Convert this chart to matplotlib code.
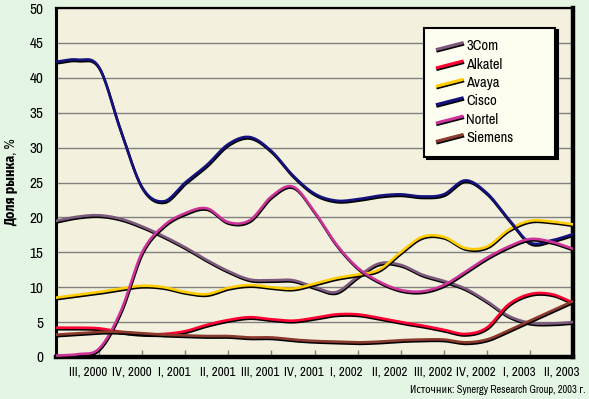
import numpy as np
import matplotlib
matplotlib.use("Agg")
import matplotlib.pyplot as plt
import matplotlib.patheffects as pe
from matplotlib import font_manager as fm
from matplotlib.lines import Line2D
from matplotlib.legend_handler import HandlerBase

# look for a narrow face, the original uses a condensed grotesque
found = sorted({f.name for f in fm.fontManager.ttflist})
narrow = [n for n in found if 'Narrow' in n or 'Condensed' in n]
plt.rcParams['font.family'] = narrow + ['Liberation Sans', 'DejaVu Sans']
plt.rcParams['font.stretch'] = 'condensed'

# quarters (labels) and half-quarter sample positions of the curves
quarters = ["III, 2000", "IV, 2000", "I, 2001", "II, 2001", "III, 2001", "IV, 2001",
            "I, 2002", "II, 2002", "III, 2002", "IV, 2002", "I, 2003", "II, 2003"]
pos = np.arange(25) * 0.5

com3 = [19.5, 20.1, 20.3, 19.8, 18.7, 17.3, 15.7, 13.9, 12.3, 11.1, 11.0, 11.0, 10.0,
        9.3, 11.5, 13.4, 13.2, 11.8, 10.9, 9.8, 8.0, 5.9, 4.9, 4.8, 5.0]
alkatel = [4.2, 4.2, 4.1, 3.6, 3.3, 3.3, 3.7, 4.6, 5.3, 5.7, 5.4, 5.2, 5.6,
           6.1, 6.1, 5.6, 5.0, 4.5, 3.9, 3.3, 4.2, 7.5, 9.0, 9.0, 7.8]
avaya = [8.5, 8.9, 9.3, 9.8, 10.2, 10.0, 9.3, 9.0, 9.9, 10.3, 10.0, 9.8, 10.5,
         11.3, 11.8, 12.5, 15.0, 17.2, 17.2, 15.6, 15.8, 18.2, 19.5, 19.4, 19.0]
cisco = [42.3, 42.6, 41.5, 32.5, 24.3, 22.3, 25.0, 27.5, 30.5, 31.5, 29.5, 26.0, 23.4,
         22.4, 22.6, 23.1, 23.3, 23.0, 23.3, 25.3, 23.5, 19.8, 16.4, 16.7, 17.6]
nortel = [0.2, 0.4, 1.2, 6.5, 15.0, 18.8, 20.6, 21.3, 19.3, 19.6, 23.0, 24.4, 20.8,
          16.2, 12.8, 10.8, 9.6, 9.4, 10.3, 12.2, 14.2, 15.8, 16.9, 16.5, 15.5]
siemens = [3.2, 3.4, 3.6, 3.6, 3.4, 3.2, 3.1, 3.0, 3.0, 2.8, 2.8, 2.5, 2.3,
           2.2, 2.1, 2.2, 2.4, 2.5, 2.5, 2.1, 2.5, 3.8, 5.2, 6.6, 8.0]

series = [("3Com", com3, '#7d5a7d'),
          ("Alkatel", alkatel, '#ff0033'),
          ("Avaya", avaya, '#ffcc00'),
          ("Cisco", cisco, '#16127c'),
          ("Nortel", nortel, '#cc3399'),
          ("Siemens", siemens, '#8b3a2e')]


def smooth(x, y, n=16):
    # catmull-rom through the read points, just for drawing
    x = np.asarray(x, float)
    y = np.asarray(y, float)
    px = np.concatenate([[2 * x[0] - x[1]], x, [2 * x[-1] - x[-2]]])
    py = np.concatenate([[2 * y[0] - y[1]], y, [2 * y[-1] - y[-2]]])
    t = np.linspace(0, 1, n, endpoint=False)
    ox, oy = [], []
    for i in range(1, len(px) - 2):
        for p, o in ((px, ox), (py, oy)):
            p0, p1, p2, p3 = p[i - 1], p[i], p[i + 1], p[i + 2]
            o.extend(0.5 * (2 * p1 + (-p0 + p2) * t + (2 * p0 - 5 * p1 + 4 * p2 - p3) * t ** 2
                            + (-p0 + 3 * p1 - 3 * p2 + p3) * t ** 3))
    ox.append(x[-1])
    oy.append(y[-1])
    return np.array(ox), np.array(oy)


shadow = [pe.SimpleLineShadow(offset=(0.4, -1.1), shadow_color='black', alpha=1.0), pe.Normal()]


class SlantHandler(HandlerBase):
    def create_artists(self, legend, orig, xd, yd, w, h, fs, trans):
        ln = Line2D([-xd, -xd + w], [-yd + 0.05 * h, -yd + 0.75 * h],
                    color=orig.get_color(), lw=2.2, solid_capstyle='butt')
        ln.set_path_effects(shadow)
        ln.set_transform(trans)
        return [ln]


fig = plt.figure(figsize=(5.89, 3.99), dpi=100, facecolor='#e4f5e4')
ax = fig.add_axes([56 / 589, 1 - 357 / 399, 517 / 589, 349 / 399])
ax.set_facecolor('#f3f1de')

for name, vals, col in series:
    sx, sy = smooth(pos, vals)
    ax.plot(sx, sy, color=col, lw=1.9, label=name, path_effects=shadow, zorder=3,
            solid_capstyle='round')

ax.set_xlim(0, 12)
ax.set_ylim(0, 50)
ax.set_yticks(np.arange(0, 51, 5))
ax.yaxis.grid(True, color='#808080', lw=1.0)
ax.set_axisbelow(True)
ax.tick_params(axis='y', length=0, pad=9, labelsize=11)
for lab in ax.get_yticklabels():
    lab.set_fontweight('bold')

ax.set_xticks(np.arange(1, 12), minor=True)
ax.set_xticks(np.arange(12) + 0.75)
ax.set_xticklabels(quarters, fontweight='bold', fontsize=9.3)
ax.tick_params(axis='x', which='major', length=0, pad=7)
ax.tick_params(axis='x', which='minor', direction='in', length=5, color='#808080', width=1)

for side, w in (('left', 2.2), ('bottom', 3.2), ('top', 1.6), ('right', 3.2)):
    ax.spines[side].set_linewidth(w)
    ax.spines[side].set_color('black')

ax.set_ylabel("Доля рынка, %", fontweight='bold', fontsize=10, labelpad=9)

leg = ax.legend(loc='upper left', bbox_to_anchor=(0.698, 0.615, 0.281, 0.35), mode='expand',
                fontsize=10.5, handler_map={Line2D: SlantHandler()}, handlelength=1.9,
                handletextpad=0.2, labelspacing=0.3, borderpad=0.8, fancybox=False,
                framealpha=1, facecolor='#fdfdf0', edgecolor='black',
                shadow={'color': 'black', 'alpha': 1})
leg.get_frame().set_linewidth(1.5)

fig.text(585 / 589, 1 - 390 / 399, "Источник: Synergy Research Group, 2003 г.",
         ha='right', va='center', fontsize=7.5)

fig.savefig("out.png", dpi=100, facecolor=fig.get_facecolor())
